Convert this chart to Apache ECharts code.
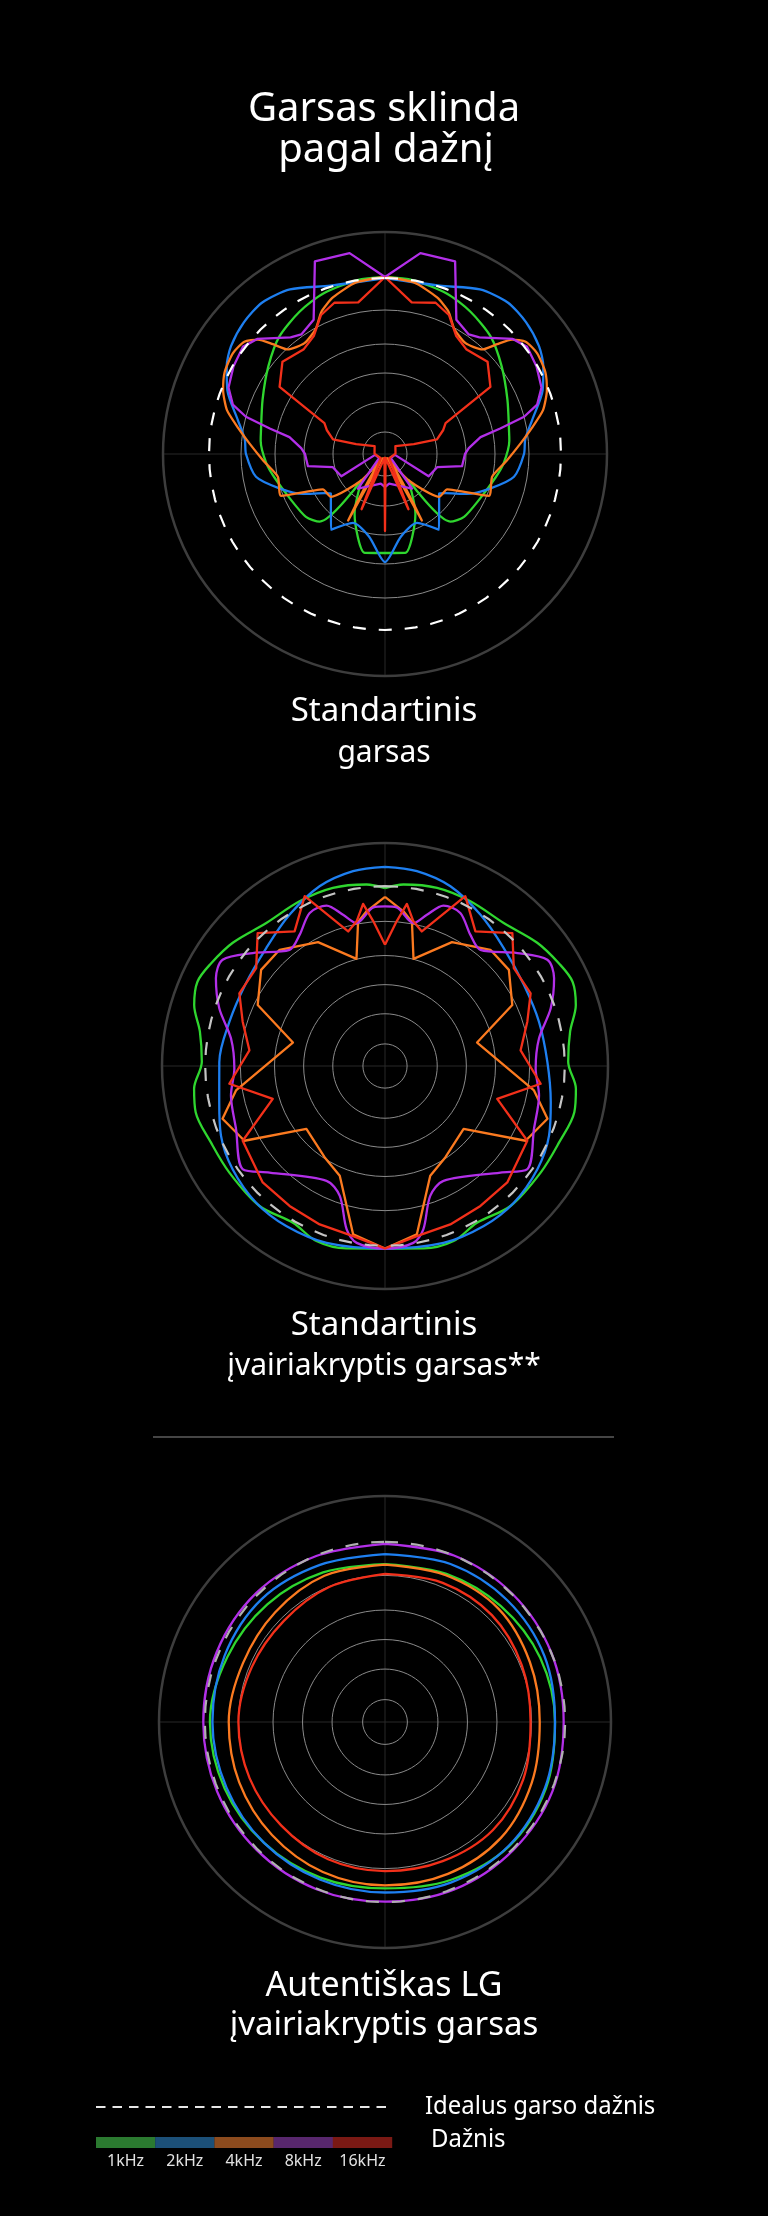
<!DOCTYPE html>
<html><head><meta charset="utf-8">
<script src="https://cdn.jsdelivr.net/npm/echarts@6/dist/echarts.min.js"></script>
<style>html,body{margin:0;padding:0;background:#000;}#c{width:768px;height:2216px;}</style>
</head><body><div id="c"></div>
<script>
// ---- grid levels (radius units, outer frame = 222) ----
const ringLevels = [22, 52, 81, 110, 144];
const idealLevels = [176, 179, 177];
const freqLabels = ['1kHz', '2kHz', '4kHz', '8kHz', '16kHz'];

// ---- Chart 1: Standartinis garsas  [radius, angle° clockwise from top] ----
const std1k = [[177,0],[176,9],[172,21],[166,31],[158,42],[146,53],[134,66],[126,80],[125,84],[119,94.5],[113,102],[105,115],[101,128.5],[94,136],[35,138],[67,153],[101,168.5],[99,180],
 [101,191.5],[67,207],[35,222],[94,224],[101,231.5],[105,245],[113,258],[119,265.5],[125,276],[126,280],[134,294],[146,307],[158,318],[166,329],[172,339],[176,351],[177,360]];
const std2k = [[176,0],[177,18],[190,30],[195,39],[193,47],[188,55],[181,61],[170,68],[151,77],[141,84],[139,90],[131,100],[111,108],[91,116],[72,123],[67,126],[93,144.5],[76,155],[84,169],[108,180],
 [84,191],[76,205],[93,215.5],[67,234],[72,237],[91,244],[111,252],[131,260],[139,270],[141,276],[151,283],[170,292],[181,299],[188,305],[193,313],[195,321],[190,330],[177,342],[176,360]];
const std4k = [[177,0],[174,9.6],[165,18.4],[156,24],[143,29],[137,36],[143,43],[157,45.6],[171,48],[180,51.4],[182.5,56.5],[180,63],[174,68.5],[164,74.5],[149,80],[136,85.5],[122,93],[109.5,102],[112,112],[71.5,119.6],[69,128.4],[36,138],[5,150],[76,151],[4,180],
 [76,209],[5,210],[36,222],[69,231.6],[71.5,240.4],[112,248],[109.5,258],[122,267],[136,274.5],[149,280],[164,285.5],[174,291.5],[180,297],[182.5,303.5],[180,308.6],[171,312],[157,314.4],[143,317],[137,324],[143,331],[156,336],[165,341.6],[174,350.4],[177,360]];
const std8k = [[177,0],[204,10],[205,20],[152,28],[146,35],[150,39],[172,48],[178,53],[175,60],[170,67],[160,72],[144,75],[118,77.5],[97,80],[84,86],[80,90],[78,99],[54,104],[49,117],[10,95],[7,125],[44,142],[30,172],[33,180],
 [30,188],[44,218],[7,235],[10,265],[49,243],[54,256],[78,261],[80,270],[84,274],[97,280],[118,282.5],[144,285],[160,288],[170,293],[175,300],[178,307],[172,312],[150,321],[146,325],[152,332],[205,340],[204,350],[177,360]];
const std16k = [[177,0],[154,10],[159.5,18.5],[153,24.7],[138,31],[132.5,38],[138,48],[125,57.5],[68,63],[63,67.6],[54,74.3],[30.5,71],[13,53],[10.5,88],[6,135],[60,157],[4,172],[77,180],
 [4,188],[60,203],[6,225],[10.5,272],[13,307],[30.5,289],[54,285.7],[63,292.4],[68,297],[125,302.5],[138,312],[132.5,322],[138,329],[153,335.3],[159.5,341.5],[154,350],[177,360]];

// ---- Chart 2: Standartinis įvairiakryptis garsas ----
const omni1k = [[177,0],[181.6,5.8],[184.7,16.3],[184.7,27.4],[185,39.7],[195,51],[201,59.4],[204.7,65.8],[199.4,72.3],[187.4,79.5],[182.4,88.7],[191.4,96.8],[194,103.7],[189.3,113.7],[187.8,124.4],[187.2,138],[181,149.6],[187.2,158.6],[185.7,168],[181.7,180],
 [185.7,192],[187.2,201.4],[181,210.4],[187.2,222],[187.8,235.6],[189.3,246.3],[194,256.3],[191.4,263.2],[182.4,271.3],[187.4,280.5],[199.4,287.7],[204.7,294.2],[201,300.6],[195,309],[185,320.3],[184.7,332.6],[184.7,343.7],[181.6,354.2],[177,360]];
const omni2k = [[198.3,0],[196.6,9.3],[190.4,20],[178.1,32.2],[166.6,45.2],[160.1,59.7],[159.5,74],[161.7,88.6],[168.9,102.3],[177.4,113],[183.2,124.1],[187,136.7],[187.2,148.3],[185.4,161.7],[181.7,180],
 [185.4,198.3],[187.2,211.7],[187,223.3],[183.2,235.9],[177.4,247],[168.9,257.7],[165,271.4],[161,286],[161,300.3],[166.6,314.8],[178.1,327.8],[190.4,340],[196.6,350.7],[198.3,360]];
const omni4k = [[168.3,0],[155.1,6.8],[145.8,10.6],[110.4,14.9],[140.2,28.4],[156.2,42.2],[156.1,52.2],[140.5,64.4],[94.6,75.7],[150.3,99.3],[170.1,108],[158.5,118],[100.3,128.7],[109,146.6],[118.2,157.6],[150.5,165.9],[170.6,169.3],[181.7,180],
 [170.6,190.7],[150.5,194.1],[118.2,202.4],[109,213.4],[100.3,231.3],[158.5,242],[170.1,252],[150.3,260.7],[94.6,284.3],[140.5,295.6],[156.1,307.8],[156.2,317.8],[140.2,331.6],[110.4,345.1],[145.8,349.4],[155.1,353.2],[168.3,360]];
const omni8k = [[159,0],[158.4,4.2],[145.1,11.3],[156.3,15.5],[170,20],[169.8,26.2],[155.9,33],[149.7,39.4],[173.1,49.5],[193.2,56.8],[189.6,62.6],[174.7,70.8],[155.7,79.9],[150,91],[156.1,100.8],[161,112.9],[175,125.9],[156.4,132.7],[128.3,153],[136.9,160.8],[167.1,166.8],[178.3,170.9],[181.7,180],
 [178.3,189.1],[167.1,193.2],[136.9,199.2],[128.3,207],[156.4,227.3],[175,234.1],[161,247.1],[156.1,259.2],[150,269],[155.7,280.1],[174.7,289.2],[189.6,297.4],[193.2,303.2],[173.1,310.5],[149.7,320.6],[155.9,327],[169.8,333.8],[170,340],[156.3,344.5],[145.1,348.7],[158.4,355.8],[159,360]];
const omni16k = [[120.7,0],[144.5,4.6],[162.8,7.7],[146.8,11.1],[138.9,15.3],[187,25.3],[161.4,33.9],[183.2,43.8],[161,52.8],[162,63.5],[148.4,72.7],[135.9,83.4],[156,96.5],[116.4,106.3],[160,117.7],[168.1,133.6],[168.6,145.7],[170.6,157.6],[172.3,169.4],[181.7,180],
 [172.3,190.6],[170.6,202.4],[168.6,214.3],[168.1,226.4],[160,242.3],[116.4,253.7],[156,263.5],[135.9,276.6],[148.4,287.3],[162,296.5],[161,307.2],[183.2,316.2],[161.4,326.1],[187,334.7],[138.9,344.7],[146.8,348.9],[162.8,352.3],[144.5,355.4],[120.7,360]];

// ---- Chart 3: Autentiškas LG įvairiakryptis garsas ----
const lg1k = [[155,0],[157.5,22.5],[161,45],[165,67.5],[167,90],[171,112.5],[172.5,135],[168,157.5],[163.5,180],[165.5,202.5],[168,225],[170.5,247.5],[172,270],[167.5,292.5],[163.5,315],[159,337.5],[155,360]];
const lg2k = [[165,0],[168,22.5],[169.5,45],[169.5,67.5],[167,90],[170,112.5],[172,135],[170.5,157.5],[167.5,180],[167.5,202.5],[168,225],[168.5,247.5],[169.5,270],[170.5,292.5],[171,315],[167,337.5],[165,360]];
const lg4k = [[154.5,0],[156,22.5],[157.5,45],[154,67.5],[152,90],[156,112.5],[161,135],[161.5,157.5],[160.5,180],[159.5,202.5],[157,225],[155,247.5],[153.5,270],[151,292.5],[152.5,315],[155.5,337.5],[154.5,360]];
const lg8k = [[175,0],[177,22.5],[177.5,45],[177,67.5],[175.5,90],[178,112.5],[178,135],[178,157.5],[176.5,180],[177.5,202.5],[178,225],[178.5,247.5],[178.5,270],[179,292.5],[179,315],[176.5,337.5],[175,360]];
const lg16k = [[145.5,0],[148,22.5],[148.5,45],[145.5,67.5],[143,90],[147,112.5],[150,135],[148,157.5],[146.5,180],[146,202.5],[144,225],[144,247.5],[144,270],[141.5,292.5],[140.5,315],[143.5,337.5],[145.5,360]];

// ---- styling ----
const lineColors = ['#2fd62f', '#1e7ff0', '#fb7a20', '#b22fe8', '#f2301a'];
const legendColors = ['#2b7a30', '#1c5078', '#8c4b1e', '#58276d', '#7a1914'];
const panels = [
  { center: [385, 454], radius: 222, sets: [std1k, std2k, std4k, std8k, std16k], smooth: [0.25, 0.25, 0.2, 0, 0], ideal: '#ffffff' },
  { center: [385, 1066], radius: 223, sets: [omni1k, omni2k, omni4k, omni8k, omni16k], smooth: [0.33, 0.33, 0, 0.3, 0], ideal: '#c4c4c4' },
  { center: [385, 1722], radius: 226, sets: [lg1k, lg2k, lg4k, lg8k, lg16k], smooth: [0.34, 0.34, 0.34, 0.34, 0.34], ideal: '#b0b0b0' }
];

const circleAngles = [];
for (let a = 0; a <= 360; a += 5) circleAngles.push(a);

const polar = [], angleAxis = [], radiusAxis = [], series = [];
panels.forEach((p, i) => {
  polar.push({ center: p.center, radius: p.radius });
  angleAxis.push({
    polarIndex: i, type: 'value', min: 0, max: 360, interval: 90, startAngle: 90, clockwise: true,
    axisLine: { show: true, lineStyle: { color: '#3d3d3d', width: 2.5 } },
    axisTick: { show: false }, axisLabel: { show: false },
    splitLine: { show: true, lineStyle: { color: '#282828', width: 1 } }
  });
  radiusAxis.push({
    polarIndex: i, type: 'value', min: 0, max: 222,
    axisLine: { show: false }, axisTick: { show: false }, axisLabel: { show: false }, splitLine: { show: false }
  });
  ringLevels.forEach(L => series.push({
    type: 'line', coordinateSystem: 'polar', polarIndex: i, silent: true, symbol: 'none', z: 1,
    data: circleAngles.map(a => [L, a]), lineStyle: { color: '#8a8a8a', width: 1 }
  }));
  p.sets.forEach((d, k) => series.push({
    name: freqLabels[k], type: 'line', coordinateSystem: 'polar', polarIndex: i, symbol: 'none', z: 3,
    smooth: p.smooth[k], data: d, lineStyle: { color: lineColors[k], width: 2.3, join: 'round' }
  }));
  series.push({
    type: 'line', coordinateSystem: 'polar', polarIndex: i, silent: true, symbol: 'none', z: 5,
    data: circleAngles.map(a => [idealLevels[i], a]),
    lineStyle: { color: p.ideal, width: 2.2, type: [13, 13] }
  });
});

const F = '"Noto Sans", "Open Sans", sans-serif';
function txt(t, x, y, size, opts) {
  opts = opts || {};
  return Object.assign({
    type: 'text', x: x, y: y,
    style: { text: t, fill: opts.fill || '#ffffff', font: size + 'px ' + F,
      align: opts.align || 'center', textAlign: opts.align || 'center',
      verticalAlign: 'middle', textVerticalAlign: 'middle' }
  }, opts.scaleX ? { scaleX: opts.scaleX } : {});
}

const graphic = [
  txt('Garsas sklinda', 384, 110, 40),
  txt('pagal dažnį', 386, 151, 40),
  txt('Standartinis', 384, 712, 33),
  txt('garsas', 384, 753, 30),
  txt('Standartinis', 384, 1326, 33),
  txt('įvairiakryptis garsas**', 384, 1366, 30),
  { type: 'line', shape: { x1: 153, y1: 1437, x2: 614, y2: 1437 }, style: { stroke: '#8a8a8a', lineWidth: 1 } },
  txt('Autentiškas LG', 384, 1986, 34),
  txt('įvairiakryptis garsas', 384, 2026, 33),
  { type: 'line', shape: { x1: 96, y1: 2107, x2: 393, y2: 2107 }, style: { stroke: '#e6e6e6', lineWidth: 2, lineDash: [9.5, 7] } },
  txt('Idealus garso dažnis', 425, 2107, 26, { align: 'left', scaleX: 0.92 }),
  txt('Dažnis', 431, 2140, 26, { align: 'left', scaleX: 0.92 })
];
legendColors.forEach((c, k) => {
  graphic.push({ type: 'rect', shape: { x: 96 + k * 59.2, y: 2137, width: 59.4, height: 11 }, style: { fill: c } });
  graphic.push(txt(freqLabels[k], 125.6 + k * 59.2, 2161, 16, { fill: '#e2e2e2' }));
});

const chart = echarts.init(document.getElementById('c'), null, { renderer: 'canvas' });
chart.setOption({
  backgroundColor: '#000000',
  animation: false,
  polar: polar, angleAxis: angleAxis, radiusAxis: radiusAxis,
  series: series,
  graphic: graphic
});
</script>
</body></html>
